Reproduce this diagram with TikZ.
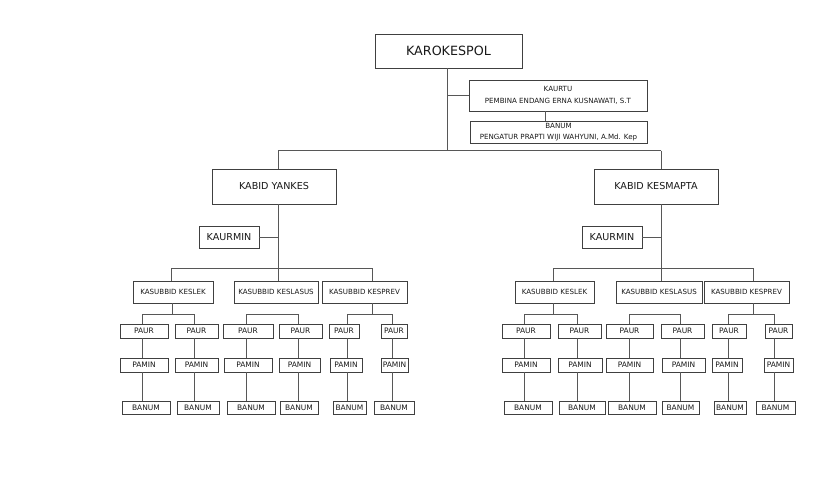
\documentclass[tikz,border=0pt]{standalone}
\usepackage{fontspec}
\setmainfont{DejaVu Sans}
\tikzset{
  box/.style={draw=black!75, line width=0.75pt, fill=white, inner sep=0pt, text=black!90, align=center},
  conn/.style={draw=black!66, line width=0.75pt},
  sm/.style={box, font=\fontsize{7.5}{8}\selectfont, minimum height=14pt},
  sub/.style={box, font=\fontsize{7.1}{8}\selectfont, minimum height=22pt},
  kabid/.style={box, font=\fontsize{9.6}{11}\selectfont, minimum width=124pt, minimum height=35pt},
  kaurmin/.style={box, font=\fontsize{9.6}{11}\selectfont, minimum width=60pt, minimum height=22pt},
}
\newcommand\orgcol[8]{%
  \coordinate (#1t) at (#2,314);
  \node[sm, minimum width=#4pt] (#1p) at (#3,331) {PAUR};
  \node[sm, minimum width=#6pt] (#1m) at (#5,365) {PAMIN};
  \node[sm, minimum width=#8pt, minimum height=13pt] (#1b) at (#7,407.5) {BANUM};
  \draw[conn] (#1t) -- (#1t |- #1p.north);
  \draw[conn] (#1t |- #1p.south) -- (#1t |- #1m.north);
  \draw[conn] (#1t |- #1m.south) -- (#1t |- #1b.north);
}
\begin{document}
\begin{tikzpicture}[x=1pt, y=-1pt]
\useasboundingbox (0,0) rectangle (838,480);
\fill[white] (0,0) rectangle (838,480);

% top
\node[box, font=\fontsize{12.7}{14}\selectfont, minimum width=147pt, minimum height=34pt] (karo) at (448.5,51) {KAROKESPOL};
\node[box, font=\fontsize{7.1}{12}\selectfont, minimum width=178pt, minimum height=31pt] (kaurtu) at (558,95.5) {KAURTU\\PEMBINA ENDANG ERNA KUSNAWATI, S.T};
\node[box, font=\fontsize{7.1}{11}\selectfont, minimum width=177pt, minimum height=22pt] (banumtop) at (558.5,132) {BANUM\\PENGATUR PRAPTI WIJI WAHYUNI, A.Md. Kep};

\coordinate (mainx) at (447.5,150.5);
\draw[conn] (mainx |- karo.south) -- (mainx);
\draw[conn] (mainx |- kaurtu.west) -- (kaurtu.west);
\coordinate (kbx) at (545,0);
\draw[conn] (kbx |- kaurtu.south) -- (kbx |- banumtop.north);

% kabid
\node[kabid] (yankes) at (274,186.5) {KABID YANKES};
\node[kabid] (kesmapta) at (656,186.5) {KABID KESMAPTA};
\coordinate (lbr) at (278,150.5);
\coordinate (rbr) at (661,150.5);
\draw[conn] (lbr) -- (rbr);
\draw[conn] (lbr) -- (lbr |- yankes.north);
\draw[conn] (rbr) -- (rbr |- kesmapta.north);

% kaurmin
\node[kaurmin] (kaurminl) at (229,237) {KAURMIN};
\node[kaurmin] (kaurminr) at (612,237) {KAURMIN};

% left kasubbid
\node[sub, minimum width=80pt] (lkeslek) at (173,292) {KASUBBID KESLEK};
\node[sub, minimum width=84pt] (lkeslasus) at (276,292) {KASUBBID KESLASUS};
\node[sub, minimum width=85pt] (lkesprev) at (364.5,292) {KASUBBID KESPREV};
\coordinate (lmid) at (278,268);
\coordinate (lbl) at (171.5,268);
\coordinate (lbrr) at (372,268);
\draw[conn] (lmid |- yankes.south) -- (lmid);
\draw[conn] (kaurminl.east) -- (kaurminl.east -| lmid);
\draw[conn] (lbl) -- (lbrr);
\draw[conn] (lbl) -- (lbl |- lkeslek.north);
\draw[conn] (lmid) -- (lmid |- lkeslasus.north);
\draw[conn] (lbrr) -- (lbrr |- lkesprev.north);

% right kasubbid
\node[sub, minimum width=79pt] (rkeslek) at (554.5,292) {KASUBBID KESLEK};
\node[sub, minimum width=86pt] (rkeslasus) at (659,292) {KASUBBID KESLASUS};
\node[sub, minimum width=85pt] (rkesprev) at (746.5,292) {KASUBBID KESPREV};
\coordinate (rmid) at (661,268);
\coordinate (rbl) at (553,268);
\coordinate (rbrr) at (753,268);
\draw[conn] (rmid |- kesmapta.south) -- (rmid);
\draw[conn] (kaurminr.east) -- (kaurminr.east -| rmid);
\draw[conn] (rbl) -- (rbrr);
\draw[conn] (rbl) -- (rbl |- rkeslek.north);
\draw[conn] (rmid) -- (rmid |- rkeslasus.north);
\draw[conn] (rbrr) -- (rbrr |- rkesprev.north);

% left columns
\orgcol{la}{142}{144}{48}{144}{48}{146}{48}
\orgcol{lb}{194}{196.5}{43}{196.5}{43}{198}{42}
\orgcol{lc}{246.7}{248}{50}{248}{48}{251}{48}
\orgcol{ld}{298}{300.5}{43}{299.5}{41}{299}{38}
\orgcol{le}{347}{344}{30}{346}{32}{349.5}{33}
\orgcol{lf}{392}{394}{26}{394.5}{27}{394}{40}
% right columns
\orgcol{ra}{524}{526}{48}{526}{48}{528}{48}
\orgcol{rb}{577}{579.5}{43}{580}{44}{582}{46}
\orgcol{rc}{629}{629.5}{47}{629.5}{47}{632}{48}
\orgcol{rd}{680}{682.5}{43}{683.5}{43}{680.5}{37}
\orgcol{re}{728}{729}{34}{727}{30}{730}{32}
\orgcol{rf}{774}{778.5}{27}{778.5}{29}{775.5}{39}

% sub-bars
\draw[conn] (lat) -- (lbt);
\coordinate (lkx) at (172,314);
\draw[conn] (lkx |- lkeslek.south) -- (lkx);
\draw[conn] (lct) -- (ldt);
\draw[conn] (let) -- (lft);
\coordinate (lpv) at (372,314);
\draw[conn] (lpv |- lkesprev.south) -- (lpv);

\draw[conn] (rat) -- (rbt);
\coordinate (rkx) at (553,314);
\draw[conn] (rkx |- rkeslek.south) -- (rkx);
\draw[conn] (rct) -- (rdt);
\draw[conn] (ret) -- (rft);
\coordinate (rpv) at (753,314);
\draw[conn] (rpv |- rkesprev.south) -- (rpv);
\end{tikzpicture}
\end{document}
